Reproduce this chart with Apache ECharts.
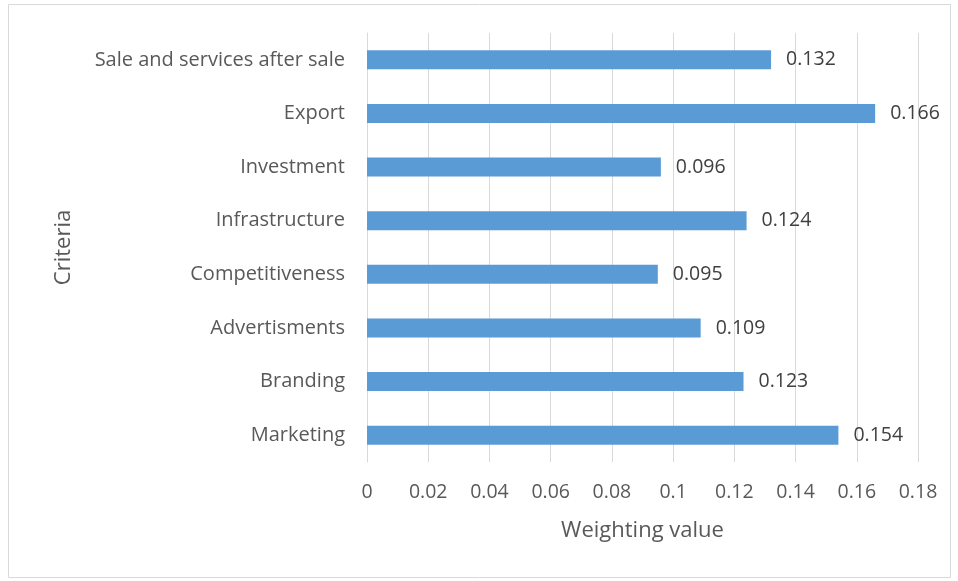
<!DOCTYPE html>
<html>
<head>
<meta charset="utf-8">
<script src="https://cdn.jsdelivr.net/npm/echarts@6/dist/echarts.min.js"></script>
<style>
  html, body { margin: 0; padding: 0; background: #fff; }
  #chart { width: 958px; height: 581px; }
</style>
</head>
<body>
<div id="chart"></div>
<script>
// Criteria, listed bottom to top as drawn on the category axis
const categories = [
  'Marketing',
  'Branding',
  'Advertisments',
  'Competitiveness',
  'Infrastructure',
  'Investment',
  'Export',
  'Sale and services after sale'
];
const weights = [0.154, 0.123, 0.109, 0.095, 0.124, 0.096, 0.166, 0.132];
const xTicks = { min: 0, max: 0.18, step: 0.02 };

const FONT = 'Open Sans';
const TEXT = '#595959';

const chart = echarts.init(document.getElementById('chart'));
chart.setOption({
  animation: false,
  textStyle: { fontFamily: FONT },
  graphic: [{
    type: 'rect',
    shape: { x: 8.5, y: 4.5, width: 942, height: 573 },
    style: { fill: 'none', stroke: '#d9d9d9', lineWidth: 1 },
    silent: true
  }],
  grid: { left: 367, right: 40, top: 33, bottom: 119, containLabel: false },
  xAxis: {
    type: 'value',
    min: xTicks.min,
    max: xTicks.max,
    interval: xTicks.step,
    name: 'Weighting value',
    nameLocation: 'middle',
    nameGap: 58,
    nameTextStyle: { color: TEXT, fontSize: 22, fontFamily: FONT },
    axisLine: { show: false },
    axisTick: { show: false },
    axisLabel: {
      color: TEXT, fontSize: 19.5, margin: 20, fontFamily: FONT,
      formatter: v => String(parseFloat(v.toFixed(2)))
    },
    splitLine: { show: true, lineStyle: { color: '#d9d9d9', width: 1 } }
  },
  yAxis: {
    type: 'category',
    data: categories,
    name: 'Criteria',
    nameLocation: 'middle',
    nameGap: 292,
    nameRotate: 90,
    nameTextStyle: { color: TEXT, fontSize: 22, fontFamily: FONT },
    axisLine: { show: true, lineStyle: { color: '#d9d9d9', width: 1 } },
    axisTick: { show: false },
    axisLabel: { color: TEXT, fontSize: 20, margin: 22, fontFamily: FONT },
    splitLine: { show: false }
  },
  series: [{
    type: 'bar',
    data: weights,
    barWidth: 19,
    itemStyle: { color: '#5b9bd5' },
    label: {
      show: true,
      position: 'right',
      distance: 15,
      color: '#404040',
      fontSize: 19.5,
      fontFamily: FONT,
      formatter: p => p.value.toFixed(3)
    }
  }]
});
</script>
</body>
</html>
